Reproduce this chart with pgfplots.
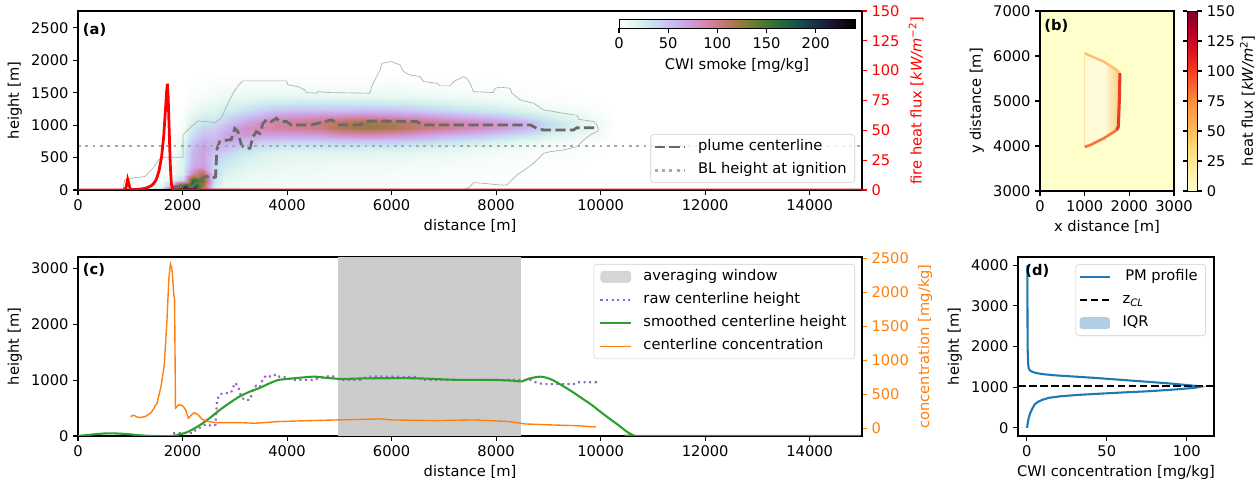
\documentclass[border=0pt]{standalone}
\usepackage{fontspec}
\setmainfont{DejaVu Sans}
\usepackage{pgfplots}
\pgfplotsset{compat=1.18}

\definecolor{tabblue}{HTML}{1F77B4}
\definecolor{taborange}{HTML}{FF7F0E}
\definecolor{tabgreen}{HTML}{2CA02C}
\definecolor{tabpurple}{HTML}{9467BD}
\definecolor{dimgr}{RGB}{105,105,105}
\definecolor{dkgr}{RGB}{169,169,169}
\definecolor{ylbg}{HTML}{FFFFCC}
\definecolor{ylin}{HTML}{FFFBD8}
\definecolor{ylgrad}{HTML}{FDCB78}
\definecolor{wingray}{RGB}{204,204,204}
\definecolor{mplred}{RGB}{255,0,0}
\definecolor{legedge}{RGB}{204,204,204}
\definecolor{contgray}{RGB}{175,175,175}

\newcommand{\fs}{\fontsize{11}{13.2}\selectfont}

\pgfplotsset{
 colormap={ylorrd}{rgb255=(255,255,204) rgb255=(255,237,160) rgb255=(254,217,118) rgb255=(254,178,76) rgb255=(253,141,60) rgb255=(252,78,42) rgb255=(227,26,28) rgb255=(189,0,38) rgb255=(128,0,38)},
 colormap={chr}{rgb=(1,1,1) rgb=(0.908,0.972,0.948) rgb=(0.824,0.932,0.936) rgb=(0.771,0.872,0.948) rgb=(0.818,0.762,0.954) rgb=(0.780,0.702,0.929) rgb=(0.814,0.614,0.854) rgb=(0.833,0.542,0.730) rgb=(0.815,0.496,0.575) rgb=(0.745,0.476,0.417) rgb=(0.628,0.475,0.286) rgb=(0.480,0.480,0.206) rgb=(0.329,0.476,0.184) rgb=(0.203,0.451,0.209) rgb=(0.120,0.400,0.257) rgb=(0.085,0.325,0.298) rgb=(0.086,0.238,0.306) rgb=(0.100,0.153,0.267) rgb=(0.102,0.083,0.188) rgb=(0.070,0.033,0.089) rgb=(0,0,0)},
 mpl/.style={
  scale only axis,
  font=\fs,
  tick align=outside,
  major tick length=3.6pt,
  every tick/.style={line width=0.8pt},
  axis line style={line width=0.8pt},
  xtick pos=left, ytick pos=left,
  scaled x ticks=false, scaled y ticks=false,
  /pgf/number format/set thousands separator={},
  /pgf/number format/assume math mode=true,
  tick label style={font=\fs},
  label style={font=\fs},
  legend cell align=left,
  legend style={font=\fs, draw=legedge, rounded corners=2.5pt, fill=white, fill opacity=0.8, text opacity=1,
     inner xsep=2pt, inner ysep=2.4pt, row sep=3.4pt, column sep=6.5pt,
     nodes={inner sep=2pt, text height=0.76em, text depth=0.24em}},
  legend image code/.code={\draw[##1] (0pt,0pt) -- (23pt,0pt);},
 },
 arealeg/.style={legend image code/.code={\path[##1] (0pt,-4.5pt) rectangle (23pt,4.5pt);}},
}

\begin{document}
\begin{tikzpicture}
\useasboundingbox (0,0) rectangle (945pt,363pt);

% ---------------- panel (a) ----------------
\begin{axis}[mpl, at={(58.5pt,220.5pt)}, anchor=south west, width=588pt, height=134.25pt,
  xmin=0, xmax=15000, ymin=0, ymax=2760,
  xtick={0,2000,...,14000}, ytick={0,500,...,2500},
  xlabel={distance [m]}, ylabel={height [m]},
  axis on top,
  colormap name=chr, point meta min=0, point meta max=240,
  colorbar horizontal,
  colorbar style={at={(parent axis.north west)}, anchor=north west, xshift=405.75pt, yshift=2.5pt,
     width=177pt, height=7pt, scale only axis, xtick={0,50,...,200}, xtick pos=left, xticklabel pos=left,
     tick align=outside, major tick length=3.6pt, font=\fs, xlabel={CWI smoke [mg/kg]},
     /pgf/number format/assume math mode=true, axis line style={line width=0.6pt}, every tick/.style={line width=0.8pt}},
  legend style={at={(1,0)}, anchor=south east, xshift=-5.25pt, yshift=5.25pt},
]
\addplot[surf, shader=interp, mesh/cols=27, point meta=explicit, forget plot] coordinates {
(800,0)[0] (1200,0)[3] (1600,0)[50] (1800,0)[160] (2000,0)[240] (2200,0)[230] (2400,0)[90] (2600,0)[20] (2800,0)[12] (3000,0)[10] (3200,0)[8] (3500,0)[7] (3800,0)[6] (4200,0)[5] (4600,0)[5] (5000,0)[4] (5500,0)[4] (6000,0)[3] (6500,0)[2] (7000,0)[2] (7500,0)[1] (8000,0)[1] (8500,0)[0] (9000,0)[0] (9500,0)[0] (10000,0)[0] (10300,0)[0]
(800,60)[0] (1200,60)[1] (1600,60)[12] (1800,60)[60] (2000,60)[180] (2200,60)[200] (2400,60)[120] (2600,60)[25] (2800,60)[12] (3000,60)[10] (3200,60)[8] (3500,60)[7] (3800,60)[6] (4200,60)[5] (4600,60)[5] (5000,60)[4] (5500,60)[4] (6000,60)[3] (6500,60)[2] (7000,60)[2] (7500,60)[1] (8000,60)[1] (8500,60)[0] (9000,60)[0] (9500,60)[0] (10000,60)[0] (10300,60)[0]
(800,150)[0] (1200,150)[1] (1600,150)[4] (1800,150)[10] (2000,150)[40] (2200,150)[160] (2400,150)[140] (2600,150)[35] (2800,150)[15] (3000,150)[12] (3200,150)[10] (3500,150)[8] (3800,150)[7] (4200,150)[6] (4600,150)[6] (5000,150)[5] (5500,150)[5] (6000,150)[4] (6500,150)[3] (7000,150)[2] (7500,150)[2] (8000,150)[1] (8500,150)[1] (9000,150)[0] (9500,150)[0] (10000,150)[0] (10300,150)[0]
(800,250)[0] (1200,250)[1] (1600,250)[3] (1800,250)[6] (2000,250)[20] (2200,250)[90] (2400,250)[120] (2600,250)[40] (2800,250)[20] (3000,250)[15] (3200,250)[12] (3500,250)[10] (3800,250)[9] (4200,250)[8] (4600,250)[7] (5000,250)[6] (5500,250)[6] (6000,250)[5] (6500,250)[4] (7000,250)[3] (7500,250)[3] (8000,250)[2] (8500,250)[1] (9000,250)[1] (9500,250)[0] (10000,250)[0] (10300,250)[0]
(800,350)[0] (1200,350)[0] (1600,350)[2] (1800,350)[5] (2000,350)[18] (2200,350)[65] (2400,350)[75] (2600,350)[40] (2800,350)[25] (3000,350)[20] (3200,350)[16] (3500,350)[13] (3800,350)[11] (4200,350)[10] (4600,350)[9] (5000,350)[8] (5500,350)[8] (6000,350)[7] (6500,350)[6] (7000,350)[5] (7500,350)[4] (8000,350)[3] (8500,350)[2] (9000,350)[1] (9500,350)[1] (10000,350)[0] (10300,350)[0]
(800,450)[0] (1200,450)[0] (1600,450)[2] (1800,450)[4] (2000,450)[18] (2200,450)[60] (2400,450)[68] (2600,450)[42] (2800,450)[30] (3000,450)[25] (3200,450)[20] (3500,450)[16] (3800,450)[13] (4200,450)[12] (4600,450)[11] (5000,450)[10] (5500,450)[10] (6000,450)[9] (6500,450)[8] (7000,450)[7] (7500,450)[5] (8000,450)[4] (8500,450)[3] (9000,450)[2] (9500,450)[1] (10000,450)[0] (10300,450)[0]
(800,550)[0] (1200,550)[0] (1600,550)[1] (1800,550)[3] (2000,550)[18] (2200,550)[60] (2400,550)[70] (2600,550)[48] (2800,550)[40] (3000,550)[32] (3200,550)[26] (3500,550)[20] (3800,550)[16] (4200,550)[15] (4600,550)[14] (5000,550)[14] (5500,550)[14] (6000,550)[13] (6500,550)[12] (7000,550)[10] (7500,550)[8] (8000,550)[6] (8500,550)[4] (9000,550)[3] (9500,550)[2] (10000,550)[1] (10300,550)[0]
(800,650)[0] (1200,650)[0] (1600,650)[1] (1800,650)[2] (2000,650)[15] (2200,650)[55] (2400,650)[72] (2600,650)[55] (2800,650)[55] (3000,650)[45] (3200,650)[38] (3500,650)[30] (3800,650)[25] (4200,650)[24] (4600,650)[23] (5000,650)[24] (5500,650)[24] (6000,650)[23] (6500,650)[20] (7000,650)[17] (7500,650)[13] (8000,650)[10] (8500,650)[7] (9000,650)[5] (9500,650)[3] (10000,650)[1] (10300,650)[0]
(800,750)[0] (1200,750)[0] (1600,750)[0] (1800,750)[1] (2000,750)[12] (2200,750)[45] (2400,750)[62] (2600,750)[58] (2800,750)[65] (3000,750)[62] (3200,750)[55] (3500,750)[47] (3800,750)[44] (4200,750)[43] (4600,750)[43] (5000,750)[46] (5500,750)[48] (6000,750)[46] (6500,750)[42] (7000,750)[36] (7500,750)[29] (8000,750)[22] (8500,750)[14] (9000,750)[9] (9500,750)[5] (10000,750)[2] (10300,750)[0]
(800,850)[0] (1200,850)[0] (1600,850)[0] (1800,850)[1] (2000,850)[8] (2200,850)[35] (2400,850)[50] (2600,850)[52] (2800,850)[66] (3000,850)[75] (3200,850)[75] (3500,850)[70] (3800,850)[70] (4200,850)[70] (4600,850)[72] (5000,850)[80] (5500,850)[84] (6000,850)[80] (6500,850)[72] (7000,850)[62] (7500,850)[54] (8000,850)[45] (8500,850)[33] (9000,850)[20] (9500,850)[11] (10000,850)[5] (10300,850)[0]
(800,950)[0] (1200,950)[0] (1600,950)[0] (1800,950)[0] (2000,950)[5] (2200,950)[28] (2400,950)[40] (2600,950)[42] (2800,950)[55] (3000,950)[70] (3200,950)[80] (3500,950)[86] (3800,950)[90] (4200,950)[95] (4600,950)[100] (5000,950)[115] (5500,950)[122] (6000,950)[118] (6500,950)[105] (7000,950)[95] (7500,950)[85] (8000,950)[75] (8500,950)[60] (9000,950)[35] (9500,950)[18] (10000,950)[7] (10300,950)[0]
(800,1050)[0] (1200,1050)[0] (1600,1050)[0] (1800,1050)[0] (2000,1050)[3] (2200,1050)[20] (2400,1050)[30] (2600,1050)[32] (2800,1050)[42] (3000,1050)[55] (3200,1050)[65] (3500,1050)[80] (3800,1050)[92] (4200,1050)[95] (4600,1050)[100] (5000,1050)[112] (5500,1050)[120] (6000,1050)[115] (6500,1050)[103] (7000,1050)[93] (7500,1050)[84] (8000,1050)[74] (8500,1050)[60] (9000,1050)[36] (9500,1050)[19] (10000,1050)[7] (10300,1050)[0]
(800,1150)[0] (1200,1150)[0] (1600,1150)[0] (1800,1150)[0] (2000,1150)[2] (2200,1150)[14] (2400,1150)[20] (2600,1150)[22] (2800,1150)[30] (3000,1150)[38] (3200,1150)[45] (3500,1150)[55] (3800,1150)[68] (4200,1150)[72] (4600,1150)[74] (5000,1150)[76] (5500,1150)[78] (6000,1150)[75] (6500,1150)[68] (7000,1150)[58] (7500,1150)[50] (8000,1150)[42] (8500,1150)[31] (9000,1150)[20] (9500,1150)[11] (10000,1150)[4] (10300,1150)[0]
(800,1250)[0] (1200,1250)[0] (1600,1250)[0] (1800,1250)[0] (2000,1250)[1] (2200,1250)[8] (2400,1250)[13] (2600,1250)[15] (2800,1250)[20] (3000,1250)[25] (3200,1250)[30] (3500,1250)[38] (3800,1250)[44] (4200,1250)[46] (4600,1250)[46] (5000,1250)[46] (5500,1250)[48] (6000,1250)[46] (6500,1250)[42] (7000,1250)[35] (7500,1250)[28] (8000,1250)[22] (8500,1250)[15] (9000,1250)[9] (9500,1250)[5] (10000,1250)[2] (10300,1250)[0]
(800,1350)[0] (1200,1350)[0] (1600,1350)[0] (1800,1350)[0] (2000,1350)[0] (2200,1350)[5] (2400,1350)[8] (2600,1350)[10] (2800,1350)[14] (3000,1350)[16] (3200,1350)[18] (3500,1350)[22] (3800,1350)[25] (4200,1350)[26] (4600,1350)[26] (5000,1350)[25] (5500,1350)[25] (6000,1350)[24] (6500,1350)[22] (7000,1350)[18] (7500,1350)[15] (8000,1350)[11] (8500,1350)[7] (9000,1350)[4] (9500,1350)[2] (10000,1350)[1] (10300,1350)[0]
(800,1450)[0] (1200,1450)[0] (1600,1450)[0] (1800,1450)[0] (2000,1450)[0] (2200,1450)[3] (2400,1450)[5] (2600,1450)[6] (2800,1450)[9] (3000,1450)[10] (3200,1450)[11] (3500,1450)[12] (3800,1450)[13] (4200,1450)[13] (4600,1450)[12] (5000,1450)[11] (5500,1450)[11] (6000,1450)[11] (6500,1450)[10] (7000,1450)[8] (7500,1450)[7] (8000,1450)[5] (8500,1450)[3] (9000,1450)[2] (9500,1450)[1] (10000,1450)[0] (10300,1450)[0]
(800,1600)[0] (1200,1600)[0] (1600,1600)[0] (1800,1600)[0] (2000,1600)[0] (2200,1600)[1] (2400,1600)[2] (2600,1600)[3] (2800,1600)[4] (3000,1600)[5] (3200,1600)[5] (3500,1600)[5] (3800,1600)[5] (4200,1600)[5] (4600,1600)[4] (5000,1600)[4] (5500,1600)[4] (6000,1600)[5] (6500,1600)[4] (7000,1600)[3] (7500,1600)[2] (8000,1600)[2] (8500,1600)[1] (9000,1600)[1] (9500,1600)[0] (10000,1600)[0] (10300,1600)[0]
(800,1800)[0] (1200,1800)[0] (1600,1800)[0] (1800,1800)[0] (2000,1800)[0] (2200,1800)[0] (2400,1800)[0] (2600,1800)[0] (2800,1800)[0] (3000,1800)[0] (3200,1800)[0] (3500,1800)[0] (3800,1800)[0] (4200,1800)[0] (4600,1800)[0] (5000,1800)[0] (5500,1800)[0] (6000,1800)[0] (6500,1800)[0] (7000,1800)[0] (7500,1800)[0] (8000,1800)[0] (8500,1800)[0] (9000,1800)[0] (9500,1800)[0] (10000,1800)[0] (10300,1800)[0]
};
\addplot[contgray, line width=0.5pt, forget plot] coordinates {
(861,0) (893,154) (1084,190) (1276,206) (1435,335) (1531,452) (1595,504) (2009,504) (2009,848) (2105,926) (2200,1003) (2296,1065) (2455,1054) (2615,1039) (2742,1106) (2838,1286) (2966,1492) (3061,1605) (3157,1682) (3986,1682) (4018,1620) (4209,1595) (4337,1543) (4369,1502) (4560,1492) (4592,1517) (4821,1502) (5587,1492) (5619,1600) (5779,1851) (5811,1954) (6002,1980) (6162,1929) (6226,1826) (6353,1774) (6545,1749) (6609,1672) (6864,1646) (6928,1605) (7119,1605) (7183,1672) (7374,1749) (7438,1720) (7502,1646) (7566,1517) (7949,1502) (7981,1569) (8077,1585) (8268,1569) (8300,1492) (8460,1389) (8715,1338) (8907,1235) (9098,1209) (9290,1183) (9481,1158) (9545,1158) (9577,1091) (9864,1055) (9928,1003) (9960,926) (9928,900) (9800,848) (9673,771) (9545,669) (9290,617) (9035,591) (8907,566) (8843,514) (8715,411) (8587,334) (8396,231) (8332,180) (8268,129) (8204,77) (8077,77) (7757,103) (7566,113) (7502,51) (7374,0)
};
\addplot[dimgr, line width=2.08pt, dash pattern=on 7.7pt off 3.3pt] coordinates {
(1820,51) (2200,51) (2230,90) (2300,130) (2400,190) (2460,210) (2550,180) (2630,200) (2660,640) (2710,746) (2800,765) (2930,775) (3000,950) (3060,900) (3125,694) (3190,645) (3290,645) (3350,823) (3410,900) (3480,874) (3540,1029) (3610,1085) (3700,1055) (3795,1106) (3860,1055) (3990,1055) (4080,1003) (4470,1003) (4720,1055) (4850,1080) (4930,1040) (5000,1003) (5400,1003) (5520,1055) (5650,1065) (6480,1055) (6580,1003) (8650,1003) (8780,951) (8910,926) (9480,926) (9545,961) (9960,961)
};
\addlegendentry{plume centerline}
\addplot[dkgr, line width=2.08pt, dash pattern=on 2.08pt off 3.43pt] coordinates {(0,680) (15000,680)};
\addlegendentry{BL height at ignition\hspace*{2pt}}
\node[anchor=north west, inner sep=0pt, font=\fs\bfseries] at (rel axis cs:0.006,0.935) {(a)};
\end{axis}

\begin{axis}[mpl, at={(58.5pt,220.5pt)}, anchor=south west, width=588pt, height=134.25pt,
  xmin=0, xmax=15000, ymin=0, ymax=150,
  axis x line=none, axis y line*=right, ytick={0,25,...,150}, ytick pos=right, yticklabel pos=right,
  ytick style={mplred}, yticklabel style={mplred}, y axis line style={black},
  ylabel={fire heat flux [\textit{kW/m}\textsuperscript{−2}]}, ylabel style={mplred}]
\addplot[mplred, line width=2.08pt] coordinates {
(0,0) (880,0) (920,2) (950,9) (975,5) (1000,0.5) (1100,0.3) (1200,0.8) (1300,1.5) (1400,3.5) (1450,5.5) (1500,9) (1550,16) (1600,28) (1640,45) (1670,65) (1695,82) (1710,89) (1725,78) (1745,50) (1765,22) (1785,6) (1805,0.5) (1820,0) (15000,0)
};
\end{axis}

% ---------------- panel (b) ----------------
\begin{axis}[mpl, at={(780pt,219.75pt)}, anchor=south west, width=100.5pt, height=135pt,
  xmin=0, xmax=3000, ymin=3000, ymax=7000,
  xtick={0,1000,2000,3000}, ytick={3000,4000,...,7000},
  xlabel={x distance [m]}, ylabel={y distance [m]},
  axis background/.style={fill=ylbg},
  colormap name=ylorrd, point meta min=0, point meta max=150,
  colorbar,
  colorbar style={at={(parent axis.north east)}, anchor=north west, xshift=1.5pt,
     width=7.5pt, height=135pt, scale only axis, ytick={0,25,...,150},
     tick align=outside, major tick length=3.6pt, font=\fs,
     ylabel={heat flux [\textit{kW/m}\textsuperscript{2}]}, ylabel shift=-3pt,
     /pgf/number format/assume math mode=true, axis line style={line width=0.6pt}, every tick/.style={line width=0.8pt}},
]
\addplot[draw=none, fill=ylin] coordinates {(1000,6060) (1420,5880) (1716,5690) (1790,5617) (1776,5020) (1754,4430) (1716,4353) (1420,4167) (1120,4019) (1000,3980)} --cycle;
\addplot[draw=none, left color=ylin, right color=ylgrad] coordinates {(1450,5850) (1716,5690) (1790,5617) (1776,5020) (1754,4430) (1716,4353) (1450,4185)} --cycle;
\addplot[color={rgb,255:red,255;green,226;blue,160}, line width=1pt] coordinates {(1000,3980) (1000,6060)};
\addplot[color={rgb,255:red,253;green,190;blue,110}, line width=1.8pt, line join=round] coordinates {(1000,6060) (1420,5880) (1716,5690) (1790,5617)};
\addplot[color={rgb,255:red,246;green,120;blue,60}, line width=2pt, line join=round] coordinates {(1716,4353) (1420,4167) (1120,4019) (1000,3980)};
\addplot[color={rgb,255:red,232;green,60;blue,38}, line width=2.3pt, line join=round] coordinates {(1790,5617) (1776,5020) (1754,4430) (1716,4353)};
\node[anchor=north west, inner sep=0pt, font=\fs\bfseries] at (rel axis cs:0.03,0.955) {(b)};
\end{axis}

% ---------------- panel (c) ----------------
\begin{axis}[mpl, at={(58.5pt,36pt)}, anchor=south west, width=588pt, height=134.25pt,
  xmin=0, xmax=15000, ymin=0, ymax=3200,
  xtick={0,2000,...,14000}, ytick={0,1000,2000,3000},
  xlabel={distance [m]}, ylabel={height [m]},
  legend style={at={(1,1)}, anchor=north east, xshift=-5.25pt, yshift=-5.25pt, inner xsep=4.2pt}]
\addplot[fill=wingray, draw=none, arealeg] coordinates {(4970,0) (8480,0) (8480,3200) (4970,3200)} --cycle;
\addlegendentry{averaging window}
\addplot[tabpurple, line width=1.56pt, dash pattern=on 1.56pt off 2.6pt] coordinates {
(1820,51) (2200,51) (2230,90) (2300,130) (2400,190) (2460,210) (2550,180) (2630,200) (2660,640) (2710,746) (2800,765) (2930,775) (3000,950) (3060,900) (3125,694) (3190,645) (3290,645) (3350,823) (3410,900) (3480,874) (3540,1029) (3610,1085) (3700,1055) (3795,1106) (3860,1055) (3990,1055) (4080,1003) (4470,1003) (4720,1055) (4850,1080) (4930,1040) (5000,1003) (5400,1003) (5520,1055) (5650,1065) (6480,1055) (6580,1003) (8650,1003) (8780,951) (8910,926) (9480,926) (9545,961) (9960,961)
};
\addlegendentry{raw centerline height}
\addplot[tabgreen, line width=1.56pt, smooth, tension=0.4] coordinates {
(0,0) (150,15) (315,30) (450,42) (614,48) (800,42) (989,30) (1150,15) (1363,2) (1500,0) (1780,0) (1950,30) (2112,78) (2337,197) (2520,320) (2712,465) (2900,590) (3086,704) (3280,790) (3461,853) (3650,935) (3835,1002) (4135,1032) (4509,1061) (4750,1040) (5034,1020) (5400,1028) (5708,1032) (6457,1032) (7206,1005) (7955,1002) (8300,990) (8479,975) (8629,1025) (8780,1055) (8854,1061) (8950,1045) (9079,1002) (9250,910) (9453,793) (9640,675) (9828,555) (10000,430) (10202,286) (10337,197) (10498,78) (10620,15) (10690,0) (15000,0)
};
\addlegendentry{smoothed centerline height}
\addlegendimage{draw=taborange, line width=1.04pt}
\addlegendentry{centerline concentration}
\node[anchor=north west, inner sep=0pt, font=\fs\bfseries] at (rel axis cs:0.006,0.965) {(c)};
\end{axis}

\begin{axis}[mpl, at={(58.5pt,36pt)}, anchor=south west, width=588pt, height=134.25pt,
  xmin=0, xmax=15000, ymin=-113, ymax=2518,
  axis x line=none, axis y line*=right, ytick={0,500,...,2500}, ytick pos=right, yticklabel pos=right,
  ytick style={taborange}, yticklabel style={taborange}, y axis line style={black},
  ylabel={concentration [mg/kg]}, ylabel style={taborange}]
\addplot[taborange, line width=1.04pt] coordinates {
(1004,173) (1064,192) (1120,170) (1176,158) (1288,173) (1401,232) (1513,370) (1588,616) (1648,912) (1700,1553) (1738,2194) (1768,2416) (1798,2342) (1835,1948) (1848,1900) (1865,296) (1925,345) (2000,335) (2060,271) (2112,148) (2172,197) (2225,232) (2300,197) (2375,133) (2487,99) (2637,84) (3086,84) (3386,74) (3835,99) (4434,113) (4959,123) (5783,138) (6007,123) (6831,113) (7581,123) (8255,99) (8554,64) (9079,49) (9528,39) (9903,20)
};
\end{axis}

% ---------------- panel (d) ----------------
\begin{axis}[mpl, at={(763.5pt,36pt)}, anchor=south west, width=147pt, height=134.25pt,
  xmin=-5.5, xmax=117, ymin=-200, ymax=4200,
  xtick={0,50,100}, ytick={0,1000,...,4000},
  xlabel={CWI concentration [mg/kg]}, ylabel={height [m]},
  legend style={at={(1,1)}, anchor=north east, xshift=-6pt, yshift=-5.25pt}]
\addplot[tabblue, line width=1.56pt] coordinates {
(0.2,0) (0.5,100) (1.2,250) (2,350) (3.5,480) (5,580) (7,640) (10,694) (14,740) (21,776) (32,810) (46,841) (60,870) (75,898) (88,930) (98,960) (105,985) (108,1010) (106,1030) (98,1060) (88,1095) (78,1125) (66,1160) (54,1195) (42,1230) (30,1260) (18,1290) (10,1320) (5.5,1350) (3,1385) (1.8,1420) (1.2,1470) (0.9,1550) (0.7,1700) (0.5,2000) (0.4,3000) (0.3,4000)
};
\addlegendentry{\hspace*{2pt}PM profile\hspace*{2pt}}
\addplot[black, line width=1.56pt, dash pattern=on 5.8pt off 2.5pt] coordinates {(-5.5,1020) (117,1020)};
\addlegendentry{z\textsubscript{\textit{CL}}}
\addplot[fill=tabblue, fill opacity=0.35, draw=none, arealeg] coordinates {
(0.7,0) (1.02,100) (1.75,250) (2.58,350) (4.14,480) (5.7,580) (7.78,640) (10.9,694) (15.06,740) (22.34,776) (33.78,810) (48.34,841) (62.9,870) (78.5,898) (92.02,930) (102.42,960) (109.7,985) (112.82,1010) (110.74,1030) (102.42,1060) (92.02,1095) (81.62,1125) (69.14,1160) (56.66,1195) (44.18,1230) (31.7,1260) (19.22,1290) (10.9,1320) (6.22,1350) (3.62,1385) (2.37,1420) (1.75,1470) (1.44,1550) (1.23,1700) (1.02,2000) (0.92,3000) (0.81,4000)
(0,4000) (0.08,3000) (0.18,2000) (0.37,1700) (0.56,1550) (0.85,1470) (1.43,1420) (2.58,1385) (4.98,1350) (9.3,1320) (16.98,1290) (28.5,1260) (40.02,1230) (51.54,1195) (63.06,1160) (74.58,1125) (84.18,1095) (93.78,1060) (101.46,1030) (103.38,1010) (100.5,985) (93.78,960) (84.18,930) (71.7,898) (57.3,870) (43.86,841) (30.42,810) (19.86,776) (13.14,740) (9.3,694) (6.42,640) (4.5,580) (3.06,480) (1.62,350) (0.85,250) (0.18,100) (0,0)
} --cycle;
\addlegendentry{IQR}
\node[anchor=north west, inner sep=0pt, font=\fs\bfseries] at (rel axis cs:0.036,0.96) {(d)};
\end{axis}
\end{tikzpicture}
\end{document}
